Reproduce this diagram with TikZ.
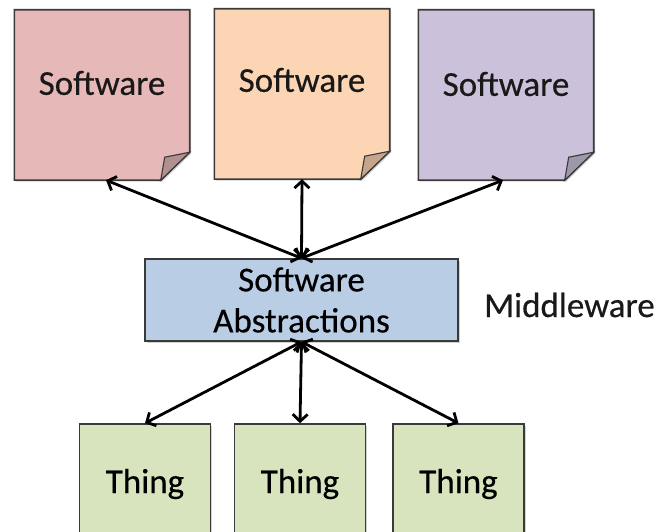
\documentclass[tikz,border=0pt]{standalone}
\usepackage{fontspec}
\setmainfont{Carlito}[FakeBold=0.4]
\usetikzlibrary{arrows.meta,shadows}
\definecolor{swpink}{HTML}{E6B9B8}
\definecolor{swpeach}{HTML}{FCD5B5}
\definecolor{swlav}{HTML}{CCC1DA}
\definecolor{mwblue}{HTML}{B9CDE5}
\definecolor{thgreen}{HTML}{D7E4BD}
\definecolor{edge}{HTML}{3A3A3A}
\newcommand{\foldbox}[2]{%
  \path[fill=#2, draw=edge, line width=1.6pt, line join=miter,
        drop shadow={shadow xshift=1.5pt, shadow yshift=-1.5pt, opacity=0.35}]
    (#1.north west) -- (#1.north east) -- ([yshift=28pt]#1.south east)
    -- ([xshift=-29pt]#1.south east) -- (#1.south west) -- cycle;
  \path[fill=#2!78!black, draw=edge, line width=1.1pt]
    ([yshift=28pt]#1.south east) -- ([xshift=-29pt]#1.south east)
    -- ([xshift=-25pt,yshift=23pt]#1.south east) -- cycle;
}
\begin{document}
\begin{tikzpicture}[x=1pt,y=-1pt,
  font=\fontsize{35}{41}\selectfont,
  swbox/.style={draw=none, minimum width=175pt, minimum height=170pt, inner sep=0pt},
  lbl/.style={inner sep=0pt, text=black!90},
  midbox/.style={draw=edge, fill=mwblue, line width=1.6pt, minimum width=313pt,
    minimum height=82pt, inner sep=0pt, align=center,
    drop shadow={shadow xshift=1.5pt, shadow yshift=-1.5pt, opacity=0.35}},
  thbox/.style={draw=edge, fill=thgreen, line width=1.6pt, minimum width=131pt,
    minimum height=120pt, inner sep=0pt,
    drop shadow={shadow xshift=1.5pt, shadow yshift=-1.5pt, opacity=0.35}},
  conn/.style={line width=2.8pt, black, {Straight Barb[length=7pt,width=15pt]}-{Straight Barb[length=7pt,width=15pt]}}
]
\useasboundingbox (0,0) rectangle (662,532);
\clip (0,0) rectangle (662,532);
\fill[white] (0,0) rectangle (662,532);

% software boxes
\node[swbox] (s1) at (102,95) {};
\node[swbox] (s2) at (302,94) {};
\node[swbox] (s3) at (506,95) {};
\foldbox{s1}{swpink}
\foldbox{s2}{swpeach}
\foldbox{s3}{swlav}
\node[lbl] (s1t) at (102,83) {Software};
\node[lbl] (s2t) at (302,80) {Software};
\node[lbl] (s3t) at (506,84) {Software};

% middleware
\node[midbox] (m) at (301.5,300) {Software\\Abstractions};
\node[lbl, anchor=west] (mw) at (484,305) {Middleware};

% things
\node[thbox] (t1) at (145,484) {Thing};
\node[thbox] (t2) at (300,484) {Thing};
\node[thbox] (t3) at (458.5,484) {Thing};

% connectors
\draw[conn] ([xshift=4pt]s1.south) -- (m.north);
\draw[conn] (s2.south) -- (m.north);
\draw[conn] ([xshift=-3pt]s3.south) -- (m.north);
\draw[conn] (m.south) -- (t1.north);
\draw[conn] (m.south) -- (t2.north);
\draw[conn] (m.south) -- (t3.north);
\end{tikzpicture}
\end{document}
